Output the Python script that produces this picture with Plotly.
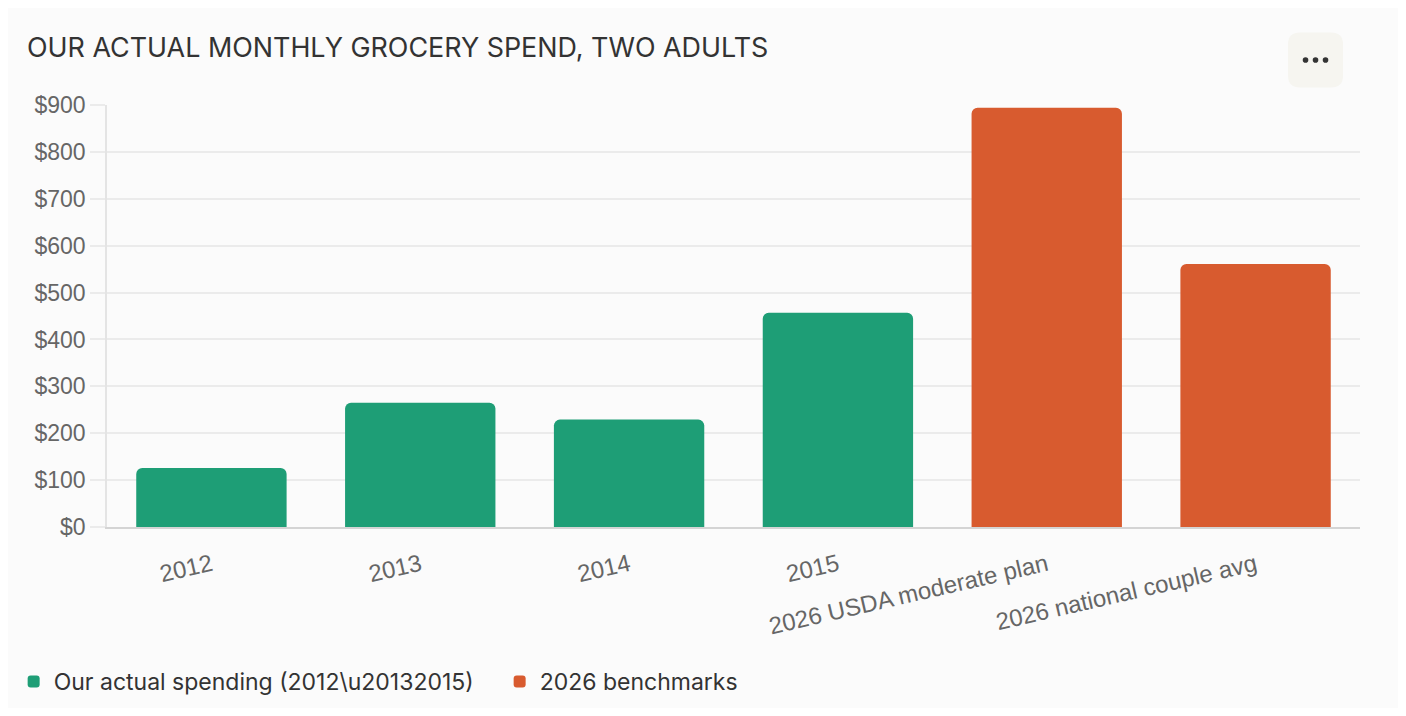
"""
Monthly grocery spend for two adults, compared with 2026 benchmarks.
"""
import plotly.graph_objects as go

ACTUAL_LABELS = ['2012', '2013', '2014', '2015']
ACTUAL_VALUES = [126, 265, 229, 457]
BENCH_LABELS = ['2026 USDA moderate plan', '2026 national couple avg']
BENCH_VALUES = [894, 561]
Y_TICKS = [0, 100, 200, 300, 400, 500, 600, 700, 800, 900]
Y_TICK_TEXT = ['$' + str(v) for v in Y_TICKS]

GREEN = '#1e9e76'
ORANGE = '#d85b2f'
TEXT = '#333333'
GRID = '#ebebeb'
BG = '#fbfbfb'

fig = go.Figure()

fig.add_trace(go.Bar(
    x=ACTUAL_LABELS,
    y=ACTUAL_VALUES,
    name='Our actual spending (2012\\u20132015)',
    marker=dict(color=GREEN, cornerradius=6, line=dict(width=0)),
))
fig.add_trace(go.Bar(
    x=BENCH_LABELS,
    y=BENCH_VALUES,
    name='2026 benchmarks',
    marker=dict(color=ORANGE, cornerradius=6, line=dict(width=0)),
))

# "..." menu button, top right (rounded box + three dots)
BTN_X, BTN_Y = 0.9645, 1.1066
fig.add_shape(
    type='path', xref='paper', yref='paper',
    xsizemode='pixel', ysizemode='pixel',
    xanchor=BTN_X, yanchor=BTN_Y,
    path='M -15.5,-27.5 H 15.5 Q 27.5,-27.5 27.5,-15.5 V 15.5 Q 27.5,27.5 15.5,27.5 '
         'H -15.5 Q -27.5,27.5 -27.5,15.5 V -15.5 Q -27.5,-27.5 -15.5,-27.5 Z',
    fillcolor='#f6f5f0', line=dict(width=0), layer='below',
)
for dx in (-10, 0, 10):
    fig.add_shape(
        type='circle', xref='paper', yref='paper',
        xsizemode='pixel', ysizemode='pixel',
        xanchor=BTN_X, yanchor=BTN_Y,
        x0=dx - 2.8, x1=dx + 2.8, y0=-2.8, y1=2.8,
        fillcolor=TEXT, line=dict(width=0),
    )

fig.update_layout(
    width=1390,
    height=700,
    paper_bgcolor=BG,
    plot_bgcolor=BG,
    margin=dict(l=99, r=38, t=97, b=181, autoexpand=False),
    barmode='overlay',
    bargap=0.28,
    title=dict(
        text='OUR ACTUAL MONTHLY GROCERY SPEND, TWO ADULTS',
        xref='container', yref='container',
        x=0.0137, y=0.943, xanchor='left', yanchor='middle',
        font=dict(family='Inter', size=26.9, color=TEXT),
    ),
    legend=dict(
        orientation='h',
        x=-0.0745, y=-0.366, xanchor='left', yanchor='middle',
        font=dict(family='Inter', size=23, color=TEXT),
        bgcolor='rgba(0,0,0,0)',
        itemclick=False,
        entrywidth=441,
        entrywidthmode='pixels',
    ),
    xaxis=dict(
        type='category',
        categoryorder='array',
        categoryarray=ACTUAL_LABELS + BENCH_LABELS,
        tickangle=-13,
        tickfont=dict(family='Liberation Sans', size=24, color='#666666'),
        showgrid=False,
        showline=True, linecolor='#d4d4d4', linewidth=1.5,
        ticks='', ticklabelstandoff=13,
        automargin=False,
    ),
    yaxis=dict(
        range=[0, 900],
        tickmode='array',
        tickvals=Y_TICKS,
        ticktext=Y_TICK_TEXT,
        tickfont=dict(family='Liberation Sans', size=23, color='#666666'),
        showgrid=True, gridcolor=GRID, gridwidth=1.5,
        showline=True, linecolor='#e4e4e4', linewidth=1.5,
        ticks='outside', ticklen=15, tickcolor=GRID, tickwidth=1.5,
        zeroline=False,
        automargin=False,
    ),
    showlegend=True,
)

fig.write_html('out.html')
